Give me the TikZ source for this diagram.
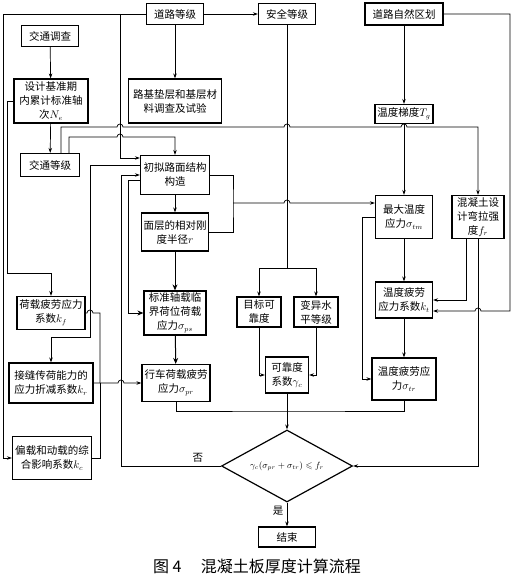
\documentclass[tikz,border=0pt]{standalone}
\usepackage{fontspec}
\usepackage{amssymb}
\newfontfamily\cjk{Noto Sans CJK SC}
\usetikzlibrary{shapes.geometric, arrows.meta}

\begin{document}
\begin{tikzpicture}[
    x=1pt, y=-1pt,
    box/.style={draw, rectangle, line width=1.2pt, align=center, inner sep=1pt, font=\cjk\fontsize{10.5}{14}\selectfont},
    arr/.style={-{Stealth[length=5pt, width=3.5pt]}, line width=0.7pt},
    arrbig/.style={-{Stealth[length=6pt, width=5pt]}, line width=1pt},
    ln/.style={line width=0.7pt},
    lbl/.style={font=\cjk\fontsize{10.5}{12}\selectfont}
]
    \useasboundingbox (0,0) rectangle (513,578);

    % top row
    \node[box, minimum width=57pt, minimum height=21pt] (lvl) at (175,14) {道路等级};
    \node[box, minimum width=57pt, minimum height=21pt] (safe) at (287,14) {安全等级};
    \node[box, minimum width=78pt, minimum height=22pt] (zone) at (404,14) {道路自然区划};
    \node[box, minimum width=57pt, minimum height=21pt] (survey) at (50,36) {交通调查};
    \node[box, minimum width=74pt, minimum height=44pt] (axle) at (51,101) {设计基准期\\内累计标准轴\\次$N_e$};
    \node[box, minimum width=93pt, minimum height=44pt] (soil) at (175,101) {路基垫层和基层材\\料调查及试验};
    \node[box, minimum width=58pt, minimum height=19pt] (grad) at (404,114) {温度梯度$T_g$};
    \node[box, minimum width=59pt, minimum height=23pt] (traffic) at (50,165) {交通等级};

    % middle
    \node[box, minimum width=69pt, minimum height=39pt] (init) at (175,175) {初拟路面结构\\构造};
    \node[box, minimum width=67pt, minimum height=38pt] (radius) at (175,232) {面层的相对刚\\度半径$r$};
    \node[box, minimum width=57pt, minimum height=43pt] (tmax) at (404,217) {最大温度\\应力$\sigma_{tm}$};
    \node[box, minimum width=52pt, minimum height=43pt] (fr) at (478,217) {混凝土设\\计弯拉强\\度$f_r$};
    \node[box, minimum width=68pt, minimum height=33pt] (kf) at (51,313) {荷载疲劳应力\\系数$k_f$};
    \node[box, minimum width=62pt, minimum height=44pt] (sps) at (175,313) {标准轴载临\\界荷位荷载\\应力$\sigma_{ps}$};
    \node[box, minimum width=44pt, minimum height=30pt] (target) at (259,312) {目标可\\靠度};
    \node[box, minimum width=44pt, minimum height=30pt] (var) at (316,312) {变异水\\平等级};
    \node[box, minimum width=57pt, minimum height=36pt] (kt) at (404,300) {温度疲劳\\应力系数$k_t$};

    % lower
    \node[box, minimum width=84pt, minimum height=40pt] (kr) at (51,383) {接缝传荷能力的\\应力折减系数$k_r$};
    \node[box, minimum width=68pt, minimum height=37pt] (spr) at (176,383) {行车荷载疲劳\\应力$\sigma_{pr}$};
    \node[box, minimum width=43pt, minimum height=36pt] (gc) at (287,375) {可靠度\\系数$\gamma_c$};
    \node[box, minimum width=64pt, minimum height=42pt] (str) at (404,379) {温度疲劳应\\力$\sigma_{tr}$};
    \node[box, minimum width=79pt, minimum height=43pt] (kc) at (52,458) {偏载和动载的综\\合影响系数$k_c$};
    \node[draw, diamond, line width=1.2pt, aspect=1.8, inner sep=0pt, minimum width=131pt, minimum height=72pt, font=\small] (check) at (287,466) {$\gamma_c(\sigma_{pr}+\sigma_{tr})\leqslant f_r$};
    \node[box, minimum width=57pt, minimum height=20pt] (stop) at (287,537) {结束};

    \node[font=\cjk\fontsize{16}{18}\selectfont] (caption) at (257,566) {图 4\hspace{1.2em}混凝土板厚度计算流程};

    % junctions
    \coordinate (jlvl) at (120,14);
    \coordinate (jsafe) at (287,268);
    \coordinate (jload) at (100,383);
    \coordinate (jtemp) at (233,203);

    % straight links
    \draw[arr] (lvl) -- (safe);
    \draw[arr] (lvl) -- (soil);
    \draw[arr] (survey) -- (axle);
    \draw[arr] (axle) -- (traffic);
    \draw[arr] (zone) -- (grad);
    \draw[arr] (grad) -- (tmax);
    \draw[arr] (init) -- (radius);
    \draw[arrbig] (radius) -- (sps);
    \draw[arrbig] (sps) -- (spr);
    \draw[arr] (tmax) -- (kt);
    \draw[arr] (kt) -- (str);
    \draw[arr] (gc) -- (check);
    \draw[arr] (check) -- node[lbl, left, pos=0.35] {是} (stop);

    % road grade
    \draw[arr] (lvl.west) -| (3,458) -- (kc.west);
    \draw[arr] (jlvl) |- ([yshift=17pt]init.west);

    % axle loads and traffic grade
    \draw[arr] (axle.west) -| (7,273) -| (kf.north);
    \draw[arr] ([xshift=11pt]traffic.north) |- (117,127)
        arc[start angle=180, end angle=360, radius=3] -- (284,127)
        arc[start angle=180, end angle=360, radius=3] -- (401,127)
        arc[start angle=180, end angle=360, radius=3] -| (fr.north);
    \draw[arr] ([xshift=19pt]traffic.north) |- (117,137)
        arc[start angle=180, end angle=360, radius=3] -| (init.north);

    % trial structure
    \draw[arr] ([yshift=10pt]init.west) -| (90,337) -| (kr.north);
    \draw[arrbig] ([yshift=-5pt]init.west) -- (128,180) |- (sps.west);
    \draw[ln] (init.east) -| (jtemp) |- (radius.east);
    \draw[arr] (jtemp) -- (284,203) arc[start angle=180, end angle=360, radius=3] -- ([yshift=14pt]tmax.west);
    \draw[arr] (check.west) -- node[lbl, above, pos=0.23] {否} (121,466) |- (init.west);

    % reliability
    \draw[ln] (safe.south) -- (jsafe);
    \draw[arr] (jsafe) -| (target.north);
    \draw[arr] (jsafe) -| (var.north);
    \draw[arr] (target.south) |- (gc.west);
    \draw[arr] (var.south) |- (gc.east);
    \draw[ln] (spr.south) |- (287,411) -| (str.south);

    % temperature
    \draw[arr] (zone.east) -| (510,311) -- (481,311)
        arc[start angle=0, end angle=-180, radius=3] -- ([yshift=-11pt]kt.east);
    \draw[arr] ([xshift=-12pt]fr.south) |- (kt.east);
    \draw[arr] (fr.south) |- (check.east);
    \draw[arr] (tmax.west) -- (362,217) |- (str.west);

    % load fatigue factors
    \draw[ln] (kf.east) -- (87,313) arc[start angle=180, end angle=360, radius=3] -- (100,313) -- (jload);
    \draw[ln] (kc.east) -| (jload);
    \draw[arr] (kr.east) -- (118,383) arc[start angle=180, end angle=360, radius=3] -- (spr.west);
\end{tikzpicture}
\end{document}
